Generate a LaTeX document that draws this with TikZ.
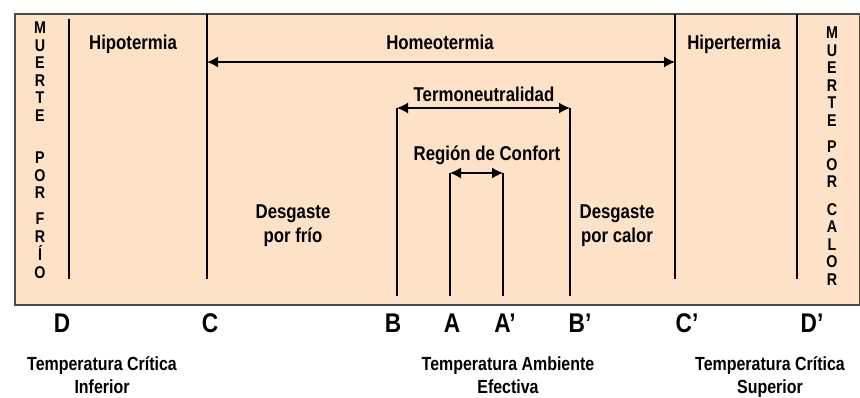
\documentclass[tikz,border=0pt]{standalone}
\usepackage{fontspec}
\setmainfont{Liberation Sans}[FakeStretch=0.84]
\usetikzlibrary{arrows.meta}
\definecolor{peach}{HTML}{FDE2C7}
\definecolor{framegray}{HTML}{4A4A4A}
\tikzset{>={Latex[length=11pt,width=11pt]}}

\begin{document}
\begin{tikzpicture}[x=1pt,y=-1pt,
    bar/.style={line width=1.4pt},
    lbl/.style={font=\bfseries\fontsize{20}{24}\selectfont, align=center},
    tick/.style={font=\bfseries\fontsize{27}{27}\selectfont, anchor=base},
    tlabel/.style={font=\bfseries\fontsize{19}{23}\selectfont, align=center},
    vword/.style={font=\bfseries\fontsize{17}{17.5}\selectfont, align=center, inner sep=0pt, anchor=north}]
    \useasboundingbox (0,0) rectangle (860,398);
    \draw[framegray, line width=1.8pt, fill=peach] (15,14) rectangle (860,305);

    % limits of the zones
    \coordinate (Dt) at (69,19);   \coordinate (Db) at (69,279);
    \coordinate (Ct) at (207,14);  \coordinate (Cb) at (207,279);
    \coordinate (Bt) at (397,108); \coordinate (Bb) at (397,296);
    \coordinate (At) at (450,173); \coordinate (Ab) at (450,296);
    \coordinate (Apt) at (503,173); \coordinate (Apb) at (503,296);
    \coordinate (Bpt) at (570,108); \coordinate (Bpb) at (570,296);
    \coordinate (Cpt) at (675,14); \coordinate (Cpb) at (675,279);
    \coordinate (Dpt) at (797,14); \coordinate (Dpb) at (797,279);
    \foreach \a/\b in {Dt/Db, Ct/Cb, Bt/Bb, At/Ab, Apt/Apb, Bpt/Bpb, Cpt/Cpb, Dpt/Dpb}
        \draw[bar] (\a) -- (\b);

    % ranges
    \coordinate (homL) at (207,62);  \coordinate (homR) at (675,62);
    \draw[bar, <->] (homL) -- (homR);
    \draw[bar, <->] (Bt) -- (Bpt);
    \draw[bar, <->] (At) -- (Apt);

    % zone labels
    \node[lbl, anchor=base] (hipo) at (133,50) {Hipotermia};
    \node[lbl, anchor=base] (homeo) at (440,50) {Homeotermia};
    \node[lbl, anchor=base] (hiper) at (734,50) {Hipertermia};
    \node[lbl, anchor=base] (termo) at (484,102) {Termoneutralidad};
    \node[lbl, anchor=base] (confort) at (487,161) {Región de Confort};
    \node[lbl] (frio) at (293,226) {Desgaste\\por frío};
    \node[lbl] (calor) at (617,226) {Desgaste\\por calor};

    % death columns
    \node[vword] (muerteL) at (40,22) {M\\U\\E\\R\\T\\E};
    \node[vword] (porL) at (40,152) {P\\O\\R};
    \node[vword, font=\bfseries\fontsize{17}{18}\selectfont] (frioL) at (40,213) {F\\R\\Í\\O};
    \node[vword] (muerteR) at (832,27) {M\\U\\E\\R\\T\\E};
    \node[vword] (porR) at (832,141) {P\\O\\R};
    \node[vword] (calorR) at (832,203) {C\\A\\L\\O\\R};

    % temperature marks
    \node[tick] (D) at (62,333) {D};
    \node[tick] (C) at (210,333) {C};
    \node[tick] (B) at (393,333) {B};
    \node[tick] (A) at (452,333) {A};
    \node[tick] (Ap) at (505,333) {A’};
    \node[tick] (Bp) at (580,333) {B’};
    \node[tick] (Cp) at (687,333) {C’};
    \node[tick] (Dp) at (812,333) {D’};

    % temperatures
    \node[tlabel] (tci) at (102,375) {Temperatura Crítica\\Inferior};
    \node[tlabel] (tae) at (508,375) {Temperatura Ambiente\\Efectiva};
    \node[tlabel] (tcs) at (770,377) {Temperatura Crítica\\Superior};
\end{tikzpicture}
\end{document}
